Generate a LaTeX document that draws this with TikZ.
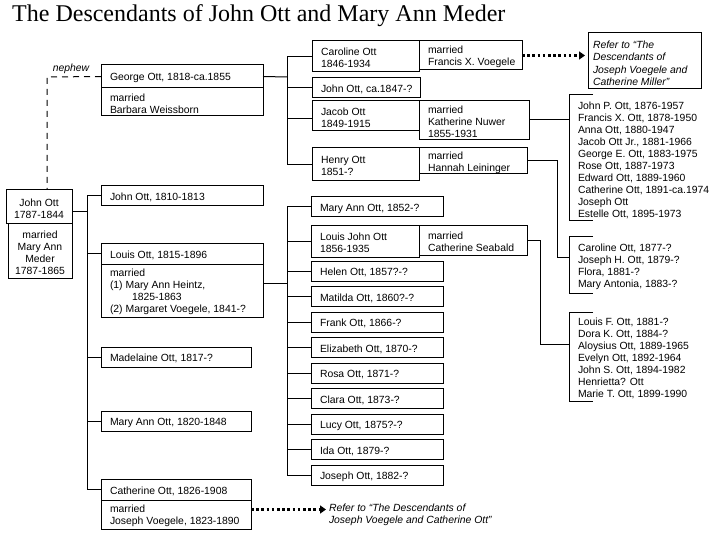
\documentclass[tikz,border=0pt]{standalone}
\usepackage{fontspec}
\setmainfont{Liberation Sans}
\newfontfamily\famtitlefont{Liberation Serif}
\usetikzlibrary{arrows.meta}
\tikzset{
  bx/.style={draw, line width=1pt, anchor=north west, inner sep=0pt, outer sep=0pt},
  txt/.style={font=\fontsize{10.4}{12}\selectfont, align=left, inner sep=0pt, outer sep=0pt},
  ctxt/.style={font=\fontsize{10.4}{12}\selectfont, align=center, inner sep=0pt, outer sep=0pt},
  itxt/.style={font=\fontsize{10.4}{12.5}\selectfont\itshape, align=left, inner sep=0pt, outer sep=0pt},
  listnode/.style={font=\fontsize{10.4}{12}\selectfont, anchor=north west, align=left, inner xsep=9pt, inner ysep=0pt, outer sep=0pt},
  conn/.style={line width=1pt},
  refarrow/.style={line width=2.6pt, dash pattern=on 2.6pt off 2.6pt, -{Triangle[length=6pt,width=8pt]}, shorten >=3pt},
  nephewline/.style={line width=1pt, dash pattern=on 6pt off 5pt},
}
\newcommand\fambox[6]{%
  \node[bx, minimum width=#4pt, minimum height=#5pt] (#1) at (#2,#3) {};
  \node[txt, anchor=west] (#1t) at ([xshift=9pt,yshift=-1.5pt]#1.west) {#6};
}
\newcommand\famcbox[6]{%
  \node[bx, minimum width=#4pt, minimum height=#5pt] (#1) at (#2,#3) {};
  \node[ctxt] (#1t) at ([yshift=-2pt]#1.center) {#6};
}
\begin{document}
\begin{tikzpicture}[x=1pt,y=-1pt]
\useasboundingbox (0,0) rectangle (720,540);
\fill[white] (0,0) rectangle (720,540);

\node[font=\famtitlefont\fontsize{24}{28}\selectfont, anchor=base west, inner sep=0pt] (title) at (12,22) {The Descendants of John Ott and Mary Ann Meder};

% generation 0
\famcbox{jo}{6}{190}{66}{34}{John Ott\\1787-1844}
\famcbox{jom}{8}{224}{64}{54}{married\\Mary Ann\\Meder\\1787-1865}

% generation 1
\fambox{george}{101}{65}{162}{23}{George Ott, 1818-ca.1855}
\fambox{georgem}{101}{88}{162}{28}{married\\Barbara Weissborn}
\fambox{john10}{101}{186}{162}{20}{John Ott, 1810-1813}
\fambox{louis}{101}{243}{162}{21}{Louis Ott, 1815-1896}
\fambox{louism}{101}{264}{162}{53}{married\\(1) Mary Ann Heintz,\\\hspace*{22pt}1825-1863\\(2) Margaret Voegele, 1841-?}
\fambox{madel}{101}{347}{150}{20}{Madelaine Ott, 1817-?}
\fambox{maryann20}{101}{411}{150}{20}{Mary Ann Ott, 1820-1848}
\fambox{cath}{101}{479}{150}{21}{Catherine Ott, 1826-1908}
\fambox{cathm}{101}{500}{150}{29}{married\\Joseph Voegele, 1823-1890}

% George's children
\fambox{caro}{312}{41}{107}{31}{Caroline Ott\\1846-1934}
\fambox{carom}{419}{41}{103}{29}{married\\Francis X. Voegele}
\fambox{john47}{312}{78}{108}{20}{John Ott, ca.1847-?}
\fambox{jacob}{312}{101}{107}{30}{Jacob Ott\\1849-1915}
\fambox{jacobm}{419}{101}{110}{39}{married\\Katherine Nuwer\\1855-1931}
\fambox{henry}{312}{148}{107}{33}{Henry Ott\\1851-?}
\fambox{henrym}{419}{148}{108}{26}{married\\Hannah Leininger}

% Louis's children
\fambox{ma52}{311}{197}{132}{20}{Mary Ann Ott, 1852-?}
\fambox{lj}{311}{226}{108}{31}{Louis John Ott\\1856-1935}
\fambox{ljm}{419}{226}{108}{29}{married\\Catherine Seabald}
\fambox{helen}{311}{261}{132}{20}{Helen Ott, 1857?-?}
\fambox{matilda}{311}{286.5}{132}{20}{Matilda Ott, 1860?-?}
\fambox{frank}{311}{312}{132}{20}{Frank Ott, 1866-?}
\fambox{eliz}{311}{337.5}{132}{20}{Elizabeth Ott, 1870-?}
\fambox{rosa}{311}{363}{132}{20}{Rosa Ott, 1871-?}
\fambox{clara}{311}{388.5}{132}{20}{Clara Ott, 1873-?}
\fambox{lucy}{311}{414}{132}{20}{Lucy Ott, 1875?-?}
\fambox{ida}{311}{439.5}{132}{20}{Ida Ott, 1879-?}
\fambox{jos82}{311}{465}{132}{20}{Joseph Ott, 1882-?}

% grandchildren lists (text nodes shifted 2pt down; brackets drawn back up)
\node[listnode, minimum height=126pt] (lista) at (569,97) {John P. Ott, 1876-1957\\Francis X. Ott, 1878-1950\\Anna Ott, 1880-1947\\Jacob Ott Jr., 1881-1966\\George E. Ott, 1883-1975\\Rose Ott, 1887-1973\\Edward Ott, 1889-1960\\Catherine Ott, 1891-ca.1974\\Joseph Ott\\Estelle Ott, 1895-1973};
\node[listnode, minimum height=57pt] (listb) at (569,238) {Caroline Ott, 1877-?\\Joseph H. Ott, 1879-?\\Flora, 1881-?\\Mary Antonia, 1883-?};
\node[listnode, minimum height=89pt] (listc) at (569,314) {Louis F. Ott, 1881-?\\Dora K. Ott, 1884-?\\Aloysius Ott, 1889-1965\\Evelyn Ott, 1892-1964\\John S. Ott, 1894-1982\\Henrietta? Ott\\Marie T. Ott, 1899-1990};

\foreach \L in {lista,listb,listc}{
  \draw[conn] ([xshift=24pt,yshift=2pt]\L.north west) -- ([yshift=2pt]\L.north west) -- ([yshift=2pt]\L.south west) -- ([xshift=24pt,yshift=2pt]\L.south west);
}

% references
\node[bx, minimum width=113pt, minimum height=56pt] (refmiller) at (588,33) {};
\node[itxt, anchor=west] (refmillert) at ([xshift=5pt,yshift=-2.5pt]refmiller.west) {Refer to “The\\Descendants of\\Joseph Voegele and\\Catherine Miller”};
\node[itxt, anchor=north west] (refcath) at (329,503.5) {Refer to “The Descendants of\\Joseph Voegele and Catherine Ott”};

\node[itxt, anchor=center] (nephew) at (71,69) {nephew};

% trunk from John Ott
\coordinate (jx) at (87,212);
\draw[conn] (jo.east |- jx) -- (jx);
\draw[conn] (john10.west) -| (jx);
\draw[conn] (cath.west) -| (jx);
\foreach \n in {louis,madel,maryann20}{\draw[conn] (\n.west) -- (\n.west -| jx);}

% nephew link
\coordinate (nc) at (47,77);
\draw[nephewline] (george.west) -- (nc) -- (nc |- jo.north);

% George's family
\coordinate (gx) at (287,77);
\draw[conn] (george.east) -- (gx);
\draw[conn] (caro.west) -| (gx);
\draw[conn] (henry.west) -| (gx);
\draw[conn] (john47.west) -- (john47.west -| gx);
\draw[conn] ([yshift=-3pt]jacob.west) -- ([yshift=-3pt]jacob.west -| gx);

% Louis's family
\coordinate (lx) at (287,283);
\draw[conn] (louism.east |- lx) -- (lx);
\draw[conn] (ma52.west) -| (lx);
\draw[conn] (jos82.west) -| (lx);
\foreach \n in {lj,helen,matilda,frank,eliz,rosa,clara,lucy,ida}{\draw[conn] (\n.west) -- (\n.west -| lx);}

% to grandchildren
\draw[conn] ([yshift=1pt]jacobm.east) -- ([yshift=1pt]jacobm.east -| lista.west);
\coordinate (hturn) at (557,257);
\draw[conn] (henrym.east) -| (hturn) -- (hturn -| listb.west);
\coordinate (lturn) at (540,344);
\draw[conn] (ljm.east) -| (lturn) -- (lturn -| listc.west);

% reference arrows
\draw[refarrow] (carom.east) -- (refmiller.west |- carom.east);
\draw[refarrow] ([yshift=5pt]cathm.east) -- ([yshift=5pt]cathm.east -| refcath.west);
\end{tikzpicture}
\end{document}
